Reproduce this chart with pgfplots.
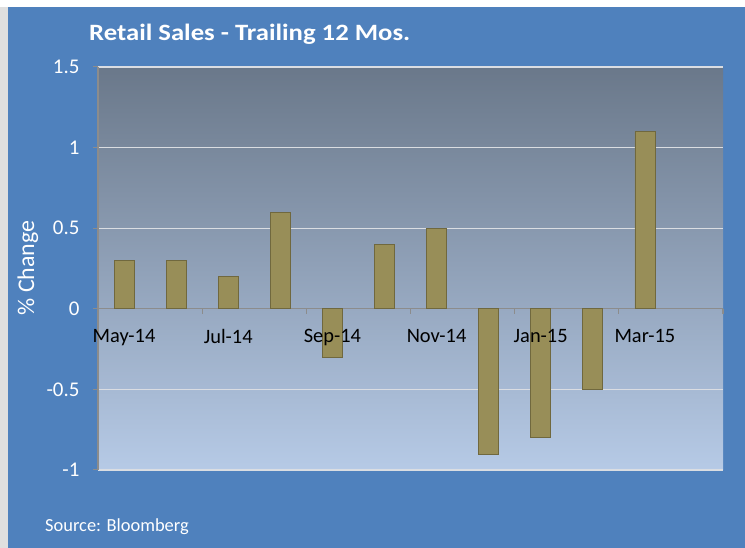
\documentclass[border=0pt]{standalone}
\usepackage{fontspec}
\setmainfont{Carlito}
\usepackage{pgfplots}
\pgfplotsset{compat=1.18}
\definecolor{frameblue}{RGB}{79,129,189}
\definecolor{bgtop}{RGB}{106,120,138}
\definecolor{bgbot}{RGB}{182,202,230}
\definecolor{barfill}{RGB}{152,142,88}
\definecolor{baredge}{RGB}{112,104,62}
\definecolor{gridc}{RGB}{218,221,226}
\definecolor{axisgray}{RGB}{140,140,140}

\pgfplotsset{
  chartbox/.style={
    at={(0,0)}, anchor=south west,
    scale only axis, width=625bp, height=403bp,
    xmin=-0.5, xmax=11.5, ymin=-1, ymax=1.5,
    axis x line*=middle, axis y line*=left,
  },
}

\begin{document}
\begin{tikzpicture}[x=1bp,y=1bp]
% frame and blue chart area
\fill[white] (-98,-78) rectangle (647,470);
\fill[gray!25] (-98,-78) rectangle (-90,463);
\fill[frameblue] (-90,-78) rectangle (647,463);
\begin{axis}[
    chartbox,
    axis line style={draw=axisgray, line width=1.2bp},
    axis background/.style={shade, top color=bgtop, bottom color=bgbot},
    xtick={1.5,3.5,5.5,7.5,9.5,11.5},
    xticklabels={},
    xtick style={draw=axisgray, line width=1.2bp},
    ytick={-1,-0.5,0,0.5,1,1.5},
    ymajorgrids,
    grid style={draw=gridc, line width=1.3bp},
    ytick style={draw=axisgray, line width=1bp},
    y tick label style={/pgf/number format/assume math mode=true, font=\fontsize{21}{21}\selectfont, text=white, xshift=-10bp},
    major tick length=5bp,
    tick align=outside,
    /pgf/number format/fixed,
]
\addplot[ybar, bar width=20bp, fill=barfill, draw=baredge, line width=0.7bp]
    coordinates {(0,0.3) (1,0.3) (2,0.2) (3,0.6) (4,-0.3) (5,0.4) (6,0.5) (7,-0.9) (8,-0.8) (9,-0.5) (10,1.1)};
\end{axis}
% month labels sit over the bars
\begin{axis}[
    chartbox,
    axis line style={draw=none},
    xtick={0,2,4,6,8,10},
    xticklabels={May-14,Jul-14,Sep-14,Nov-14,Jan-15,Mar-15},
    xtick style={draw=none},
    xticklabel style={font=\fontsize{20.5}{20.5}\selectfont, text=black, yshift=-17bp},
    ytick=\empty,
]
\end{axis}
\node[anchor=west, text=white, font=\fontsize{23.5}{23.5}\selectfont\bfseries, inner sep=0pt] at (-9,436) {\scalebox{1.14}[1]{Retail Sales - Trailing 12 Mos.}};
\node[rotate=90, text=white, font=\fontsize{24}{24}\selectfont] at (-70,202) {\% Change};
\node[anchor=west, text=white, font=\fontsize{18.5}{18.5}\selectfont, inner sep=0pt] at (-53,-57) {Source: Bloomberg};
\end{tikzpicture}
\end{document}
